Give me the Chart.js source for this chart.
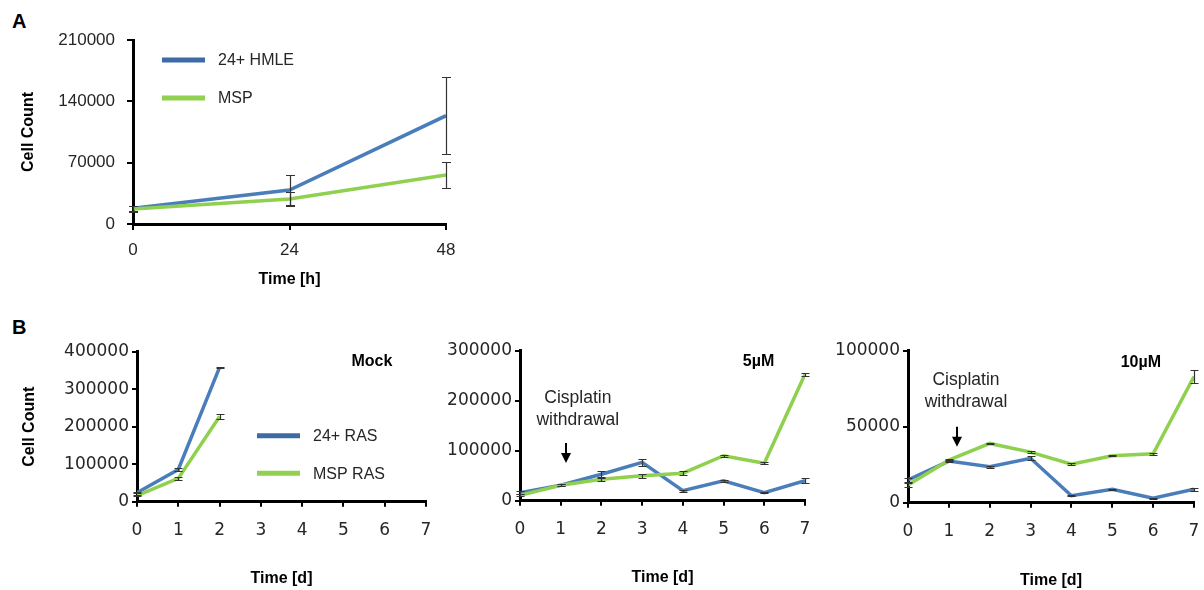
<!DOCTYPE html>
<html>
<head>
<meta charset="utf-8">
<script src="https://cdn.jsdelivr.net/npm/chart.js@4.4.1/dist/chart.umd.min.js"></script>
<style>
  body { margin: 0; background: #fff; width: 1204px; height: 590px; position: relative; overflow: hidden; font-family: 'Liberation Sans', Arial, sans-serif; }
  canvas { position: absolute; }
  .lbl { position: absolute; font-weight: bold; font-size: 20px; color: #000; }
</style>
</head>
<body>
<div class="lbl" style="left:12px;top:10px">A</div>
<div class="lbl" style="left:12px;top:316px">B</div>
<canvas id="cA" width="480" height="300" style="left:0;top:0"></canvas>
<canvas id="cMock" width="440" height="280" style="left:0;top:310px"></canvas>
<canvas id="c5" width="380" height="280" style="left:440px;top:310px"></canvas>
<canvas id="c10" width="384" height="280" style="left:820px;top:310px"></canvas>
<script>
// ---- data ----
var hoursA = [0, 24, 48];
var hmleA = [18000, 38800, 123600];
var hmleErrA = [3000, 17500, 44000];
var mspA = [17000, 28500, 56000];
var mspErrA = [3000, 8000, 14500];

var daysMock = [0, 1, 2];
var rasMock = [24000, 86000, 358000];
var rasErrMock = [2000, 3000, 2500];
var mspRasMock = [16000, 62000, 227000];
var mspRasErrMock = [2000, 4000, 6000];

var days = [0, 1, 2, 3, 4, 5, 6, 7];
var ras5 = [16000, 31000, 53000, 76700, 20000, 40000, 16000, 40000];
var rasErr5 = [3000, 2000, 7000, 7000, 2000, 2000, 1500, 5000];
var mspRas5 = [11000, 31000, 43000, 50000, 55000, 90000, 75000, 253000];
var mspRasErr5 = [2000, 2000, 4000, 4000, 4000, 2000, 2000, 3000];

var ras10 = [15000, 27400, 23700, 29200, 4600, 8800, 2900, 8800];
var rasErr10 = [1500, 800, 600, 1200, 500, 500, 500, 800];
var mspRas10 = [11600, 28000, 39000, 33300, 25400, 30900, 32200, 83000];
var mspRasErr10 = [1500, 500, 500, 800, 500, 500, 700, 4000];

var BLUE = '#4A7EBB', BLUE_KEY = '#3D6BA6';
var GREEN = '#8FD04F', GREEN_KEY = '#92D050';

function pts(xs, ys) {
  return xs.map(function (x, i) { return { x: x, y: ys[i] }; });
}

// error bars, legend, panel titles and the arrow notes
var extras = {
  id: 'extras',
  afterDatasetsDraw: function (chart, args, opts) {
    var ctx = chart.ctx, xs = chart.scales.x, ys = chart.scales.y, area = chart.chartArea;
    ctx.save();
    chart.data.datasets.forEach(function (ds) {
      if (!ds.errors) return;
      ctx.strokeStyle = '#333';
      ctx.lineWidth = opts.errWidth || 1.2;
      ds.data.forEach(function (p, i) {
        var e = ds.errors[i];
        if (!e) return;
        var px = Math.round(xs.getPixelForValue(p.x)) + 0.5;
        var t = Math.round(ys.getPixelForValue(p.y + e)) + 0.5;
        var b = Math.round(ys.getPixelForValue(p.y - e)) + 0.5;
        var c = opts.cap || 4;
        ctx.beginPath();
        ctx.moveTo(px, t); ctx.lineTo(px, b);
        ctx.moveTo(px - c, t); ctx.lineTo(px + c, t);
        ctx.moveTo(px - c, b); ctx.lineTo(px + c, b);
        ctx.stroke();
      });
    });

    if (opts.legend) {
      var L = opts.legend;
      ctx.font = '16px "Liberation Sans"';
      ctx.textBaseline = 'middle';
      ctx.textAlign = 'left';
      chart.data.datasets.forEach(function (ds, i) {
        var y = area.top + L.dy + i * L.gap;
        var x = area.left + L.dx;
        ctx.strokeStyle = ds.keyColor;
        ctx.lineWidth = 5;
        ctx.beginPath(); ctx.moveTo(x, y); ctx.lineTo(x + 43, y); ctx.stroke();
        ctx.fillStyle = '#262626';
        ctx.fillText(ds.label, x + 56, y + 1);
      });
    }

    if (opts.title) {
      ctx.font = 'bold 16px "Liberation Sans"';
      ctx.fillStyle = '#000';
      ctx.textAlign = 'center';
      ctx.textBaseline = 'middle';
      ctx.fillText(opts.title.text, xs.getPixelForValue(opts.title.x), ys.getPixelForValue(opts.title.y));
    }

    if (opts.note) {
      var n = opts.note;
      ctx.font = '17.5px "Liberation Sans"';
      ctx.fillStyle = '#262626';
      ctx.textAlign = 'center';
      ctx.textBaseline = 'middle';
      n.lines.forEach(function (ln) {
        ctx.fillText(ln.text, xs.getPixelForValue(n.x), ys.getPixelForValue(ln.y));
      });
      var ax = Math.round(xs.getPixelForValue(n.arrowX));
      var a1 = ys.getPixelForValue(n.arrowTop), a2 = ys.getPixelForValue(n.arrowBottom);
      ctx.strokeStyle = '#000';
      ctx.fillStyle = '#000';
      ctx.lineWidth = 2;
      ctx.beginPath(); ctx.moveTo(ax, a1); ctx.lineTo(ax, a2 - 9); ctx.stroke();
      ctx.beginPath();
      ctx.moveTo(ax - 5, a2 - 10); ctx.lineTo(ax + 5, a2 - 10); ctx.lineTo(ax, a2);
      ctx.closePath(); ctx.fill();
    }
    ctx.restore();
  }
};

function makeChart(id, c) {
  var tickFont = c.tickFont;
  // fixed axis sizes so every plot area lands where the figure has it
  var fitY = function (s) { s.width = c.yWidth; s.paddingTop = 0; s.paddingBottom = 0; };
  var fitX = function (s) { s.height = c.xHeight; s.paddingLeft = 0; s.paddingRight = 0; };
  return new Chart(document.getElementById(id), {
    type: 'line',
    data: {
      datasets: c.series.map(function (s) {
        return {
          label: s.label,
          data: s.data,
          errors: s.errors,
          keyColor: s.keyColor,
          borderColor: s.color,
          backgroundColor: s.color,
          borderWidth: 3.5,
          pointRadius: 0,
          tension: 0,
          fill: false,
          order: s.order
        };
      })
    },
    options: {
      responsive: false,
      animation: false,
      layout: { padding: c.pad },
      plugins: {
        legend: { display: false },
        tooltip: { enabled: false },
        extras: c.extras
      },
      scales: {
        x: {
          type: 'linear',
          min: 0, max: c.xMax,
          afterFit: fitX,
          grid: { drawOnChartArea: false, drawTicks: true, tickLength: c.tickLen, color: '#000', lineWidth: 2 },
          border: { color: '#000', width: c.borderW },
          ticks: { stepSize: c.xStep, padding: c.xTickPad, color: '#262626', font: tickFont },
          title: { display: true, text: c.xTitle, padding: 0, color: '#000',
                   font: { family: 'Liberation Sans', size: 16, weight: 'bold' } }
        },
        y: {
          min: 0, max: c.yMax,
          afterFit: fitY,
          grid: { drawOnChartArea: false, drawTicks: true, tickLength: c.tickLen, color: '#000', lineWidth: 2 },
          border: { color: '#000', width: c.borderW },
          ticks: { stepSize: c.yStep, padding: c.yTickPad, color: '#262626', font: tickFont,
                   callback: function (v) { return String(v); } },
          title: { display: !!c.yTitle, text: c.yTitle || '', padding: 0, color: '#000',
                   font: { family: 'Liberation Sans', size: 16, weight: 'bold' } }
        }
      }
    },
    plugins: [extras]
  });
}

var fontA = { family: 'Liberation Sans', size: 17 };
var fontB = { family: 'DejaVu Sans', size: 17 };

// Panel A
makeChart('cA', {
  xMax: 48, xStep: 24, yMax: 210000, yStep: 70000,
  pad: { left: 19, top: 40, right: 34, bottom: 10.4 },
  yWidth: 114, xHeight: 65.6, tickLen: 6, xTickPad: 10, yTickPad: 12, borderW: 3,
  tickFont: fontA, xTitle: 'Time [h]', yTitle: 'Cell Count',
  series: [
    { label: '24+ HMLE', data: pts(hoursA, hmleA), errors: hmleErrA, color: BLUE, keyColor: BLUE_KEY, order: 1 },
    { label: 'MSP', data: pts(hoursA, mspA), errors: mspErrA, color: GREEN, keyColor: GREEN_KEY, order: 0 }
  ],
  extras: { cap: 4.5, legend: { dx: 29, dy: 20, gap: 38 } }
});

// Panel B - Mock
makeChart('cMock', {
  xMax: 7, xStep: 1, yMax: 400000, yStep: 100000,
  pad: { left: 20.4, top: 41.7, right: 14, bottom: 2.1 },
  yWidth: 116.6, xHeight: 86.2, tickLen: 5, xTickPad: 14, yTickPad: 3, borderW: 3,
  tickFont: fontB, xTitle: 'Time [d]', yTitle: 'Cell Count',
  series: [
    { label: '24+ RAS', data: pts(daysMock, rasMock), errors: rasErrMock, color: BLUE, keyColor: BLUE_KEY, order: 1 },
    { label: 'MSP RAS', data: pts(daysMock, mspRasMock), errors: mspRasErrMock, color: GREEN, keyColor: GREEN_KEY, order: 0 }
  ],
  extras: { cap: 4, legend: { dx: 120, dy: 84, gap: 37.6 }, title: { text: 'Mock', x: 5.69, y: 373000 } }
});

// Panel B - 5µM
makeChart('c5', {
  xMax: 7, xStep: 1, yMax: 300000, yStep: 100000,
  pad: { left: 0, top: 40.7, right: 15, bottom: 3.1 },
  yWidth: 80, xHeight: 86.2, tickLen: 5, xTickPad: 14, yTickPad: 3, borderW: 3,
  tickFont: fontB, xTitle: 'Time [d]',
  series: [
    { label: '24+ RAS', data: pts(days, ras5), errors: rasErr5, color: BLUE, keyColor: BLUE_KEY, order: 1 },
    { label: 'MSP RAS', data: pts(days, mspRas5), errors: mspRasErr5, color: GREEN, keyColor: GREEN_KEY, order: 0 }
  ],
  extras: {
    cap: 4,
    title: { text: '5µM', x: 5.86, y: 278000 },
    note: { x: 1.42, lines: [{ text: 'Cisplatin', y: 205000 }, { text: 'withdrawal', y: 161000 }],
            arrowX: 1.12, arrowTop: 115400, arrowBottom: 75400 }
  }
});

// Panel B - 10µM
makeChart('c10', {
  xMax: 7, xStep: 1, yMax: 100000, yStep: 50000,
  pad: { left: 0, top: 40.7, right: 10, bottom: 0 },
  yWidth: 88, xHeight: 87.3, tickLen: 5, xTickPad: 14, yTickPad: 3, borderW: 3,
  tickFont: fontB, xTitle: 'Time [d]',
  series: [
    { label: '24+ RAS', data: pts(days, ras10), errors: rasErr10, color: BLUE, keyColor: BLUE_KEY, order: 1 },
    { label: 'MSP RAS', data: pts(days, mspRas10), errors: mspRasErr10, color: GREEN, keyColor: GREEN_KEY, order: 0 }
  ],
  extras: {
    cap: 4,
    title: { text: '10µM', x: 5.7, y: 92500 },
    note: { x: 1.42, lines: [{ text: 'Cisplatin', y: 80700 }, { text: 'withdrawal', y: 66400 }],
            arrowX: 1.19, arrowTop: 50000, arrowBottom: 36800 }
  }
});
</script>
</body>
</html>
